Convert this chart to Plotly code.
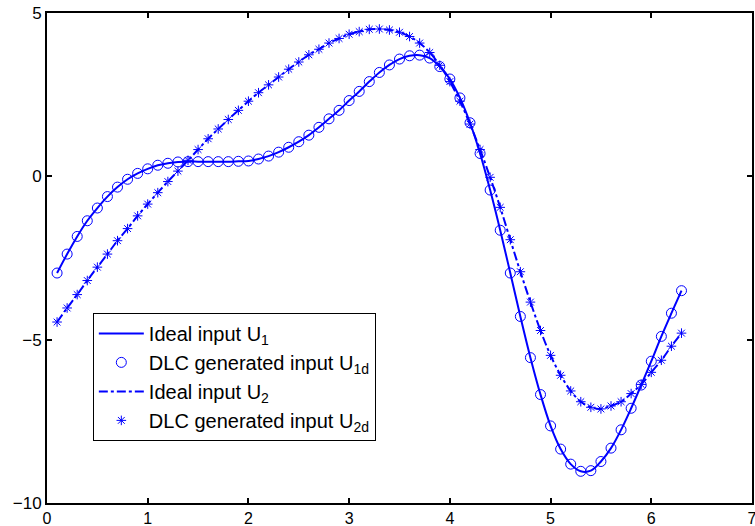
import plotly.graph_objects as go

x = [round(0.1 * i, 1) for i in range(1, 64)]

u1 = [-2.96, -2.38, -1.84, -1.36, -0.97, -0.62, -0.33, -0.09, 0.09, 0.23,
      0.34, 0.40, 0.44, 0.45, 0.45, 0.45, 0.45, 0.45, 0.46, 0.47,
      0.53, 0.62, 0.74, 0.89, 1.06, 1.26, 1.50, 1.76, 2.02, 2.32,
      2.60, 2.90, 3.18, 3.41, 3.59, 3.69, 3.71, 3.62, 3.36, 2.98,
      2.40, 1.64, 0.70, -0.42, -1.65, -2.96, -4.29, -5.55, -6.68, -7.64,
      -8.35, -8.81, -9.03, -9.01, -8.73, -8.32, -7.76, -7.10, -6.39, -5.66,
      -4.90, -4.19, -3.50]

u2 = [-4.46, -4.03, -3.62, -3.19, -2.78, -2.38, -1.97, -1.60, -1.21, -0.85,
      -0.50, -0.16, 0.16, 0.49, 0.82, 1.15, 1.45, 1.74, 2.02, 2.30,
      2.56, 2.80, 3.04, 3.28, 3.50, 3.72, 3.89, 4.08, 4.22, 4.35,
      4.43, 4.50, 4.51, 4.48, 4.41, 4.28, 4.08, 3.79, 3.40, 2.90,
      2.30, 1.60, 0.82, -0.03, -0.95, -1.94, -2.92, -3.85, -4.72, -5.48,
      -6.09, -6.57, -6.90, -7.07, -7.12, -7.03, -6.90, -6.65, -6.37, -6.00,
      -5.63, -5.20, -4.80]

names = ["Ideal input U<sub>1</sub>", "DLC generated input U<sub>1d</sub>",
         "Ideal input U<sub>2</sub>", "DLC generated input U<sub>2d</sub>"]

xticks = [0, 1, 2, 3, 4, 5, 6, 7]
yticks = [-10, -5, 0, 5]

blue = "#0000FF"
font_family = "Liberation Sans, Arial, Helvetica"

fig = go.Figure()
fig.add_trace(go.Scatter(x=x, y=u1, mode="lines", name=names[0],
                         line=dict(color=blue, width=2, shape="spline")))
fig.add_trace(go.Scatter(x=x, y=u1, mode="markers", name=names[1],
                         marker=dict(symbol="circle-open", size=10, color=blue,
                                     line=dict(width=1, color=blue))))
fig.add_trace(go.Scatter(x=x, y=u2, mode="lines", name=names[2],
                         line=dict(color=blue, width=2, dash="dashdot", shape="spline")))
fig.add_trace(go.Scatter(x=x, y=u2, mode="markers", name=names[3],
                         marker=dict(symbol="asterisk-open", size=8, color=blue,
                                     line=dict(width=1, color=blue))))

axis_common = dict(showline=True, linecolor="black", linewidth=2, mirror="ticks",
                   ticks="inside", ticklen=5, tickwidth=1.5, tickcolor="black",
                   showgrid=False, zeroline=False, automargin=False,
                   ticklabeloverflow="allow")

fig.update_layout(
    width=755, height=526,
    margin=dict(l=47, r=3, t=13, b=23),
    paper_bgcolor="white", plot_bgcolor="white",
    font=dict(family=font_family, size=17, color="black"),
    xaxis=dict(range=[0, 7], tickvals=xticks, ticklabelstandoff=0,
               tickfont=dict(family=font_family, size=16, color="black"), **axis_common),
    yaxis=dict(range=[-10, 5], tickvals=yticks,
               tickfont=dict(family=font_family, size=17, color="black"), **axis_common),
    legend=dict(x=0.065, y=0.388, xanchor="left", yanchor="top",
                bgcolor="white", bordercolor="black", borderwidth=1,
                font=dict(family=font_family, size=20, color="black"),
                tracegroupgap=0, itemwidth=45),
    showlegend=True,
)

fig.write_html("out.html", config={"displayModeBar": False},
               post_script="document.body.style.margin='0px';document.body.style.overflow='hidden';")
